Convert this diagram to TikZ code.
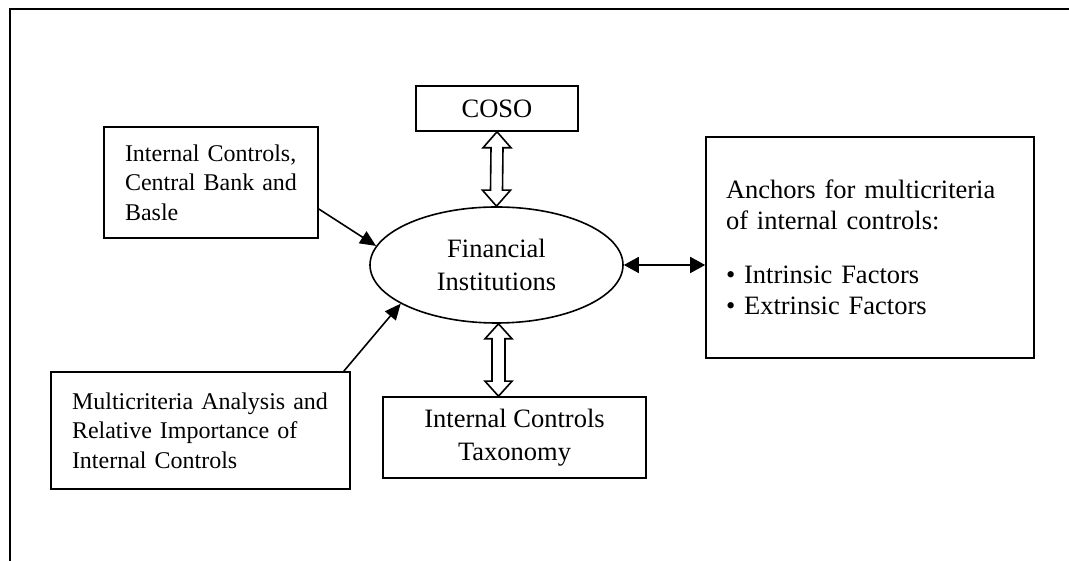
\documentclass[tikz,border=0pt]{standalone}
\usepackage{fontspec}
\setmainfont{Liberation Serif}
\usetikzlibrary{arrows.meta,calc,shapes.geometric}
\begin{document}
\begin{tikzpicture}[x=1pt,y=1pt,
  box/.style={draw,line width=1.6pt,inner sep=0pt},
  smallfont/.style={font=\fontsize{24}{29.5}\selectfont},
  bigfont/.style={font=\fontsize{26.5}{33}\selectfont},
  arr/.style={line width=1.6pt,-{Triangle[length=16pt,width=14pt]}},
  darr/.style={line width=1.6pt,{Triangle[length=15pt,width=16pt]}-{Triangle[length=15pt,width=16pt]}},
  hollow/.style={line width=1.6pt,fill=white,line join=miter}]
\useasboundingbox (0,0) rectangle (1069,561);
\draw[line width=2pt] (10,0) -- (10,552) -- (1069,552);

\node[box,bigfont,minimum width=162pt,minimum height=45pt] (coso) at (497,452.5) {COSO};
\node[box,smallfont,align=left,text width=172pt,inner xsep=21pt,minimum height=111pt] (ictl) at (211,378.5)
  {Internal Controls,\\ Central Bank and\\ Basle};
\node[box,smallfont,align=left,text width=257pt,inner xsep=21pt,minimum height=117pt] (ml) at (200.5,130.5)
  {Multicriteria Analysis and\\ Relative Importance of\\ Internal Controls};
\node[box,bigfont,align=center,minimum width=263pt,minimum height=81pt] (tax) at (514.5,123.5)
  {Internal Controls\\ Taxonomy};
\node[box,font=\fontsize{26.5}{31.5}\selectfont,align=left,text width=288pt,inner xsep=20pt,minimum height=221pt] (anch) at (870,313.5)
  {Anchors for multicriteria\\ of internal controls:\\[22pt] \textbullet{} Intrinsic Factors\\ \textbullet{} Extrinsic Factors};
\node[box,ellipse,bigfont,align=center,minimum width=253pt,minimum height=116pt] (fi) at (496.5,296)
  {Financial\\ Institutions};

\draw[arr] ($(ictl.east)+(0,-26.5)$) -- (fi.171);
\draw[arr] ($(ml.north east)+(-7,0)$) -- (fi.202);
\draw[darr] (fi.east) -- (fi.east -| anch.west);

\path (coso.south) coordinate (a1) (fi.north) coordinate (a2);
\draw[hollow] (a1) -- ++(14,-16) -- ++(-8,0) -- ($(a2)+(6,16)$) -- ++(8,0) -- (a2)
  -- ++(-14,16) -- ++(8,0) -- ($(a1)+(-6,-16)$) -- ++(-8,0) -- cycle;
\path ($(fi.south)+(2,0)$) coordinate (b1) (b1 |- tax.north) coordinate (b2);
\draw[hollow] (b1) -- ++(13.5,-15) -- ++(-7,0) -- ($(b2)+(6.5,15)$) -- ++(7,0) -- (b2)
  -- ++(-13.5,15) -- ++(7,0) -- ($(b1)+(-6.5,-15)$) -- ++(-7,0) -- cycle;
\end{tikzpicture}
\end{document}
